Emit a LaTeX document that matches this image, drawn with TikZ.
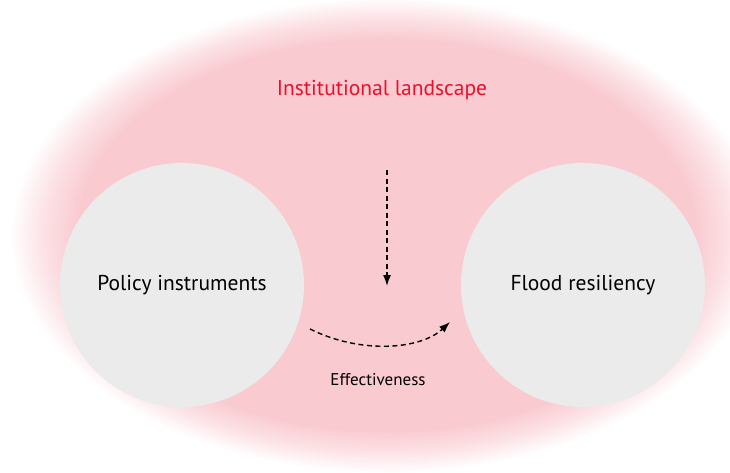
\documentclass[tikz,border=0pt]{standalone}
\usepackage{fontspec}
\setmainfont{PT Sans}
\usetikzlibrary{arrows.meta}
\definecolor{halopink}{RGB}{249,202,208}
\definecolor{discgray}{RGB}{235,235,235}
\definecolor{titlered}{RGB}{232,17,45}
\pgfdeclareradialshading{halo}{\pgfpointorigin}{color(0bp)=(halopink); color(20.5bp)=(halopink); color(22.8bp)=(halopink!55!white); color(25bp)=(white); color(50bp)=(white)}
\tikzset{
    disc/.style={circle, fill=discgray, minimum size=244pt, inner sep=0pt, font=\fontsize{21.5}{25}\selectfont},
    flow/.style={dashed, dash pattern=on 5pt off 3.5pt, line width=1.4pt, -{Latex[length=11pt, width=8pt]}}
}
\begin{document}
\begin{tikzpicture}[x=1pt, y=1pt]
    \useasboundingbox (0, 0) rectangle (730, 472);
    \begin{scope}
        \clip (0, 0) rectangle (730, 472);
        \shade[shading=halo, shift={(386, 237)}, xscale=376, yscale=238] (0, 0) circle (1);
    \end{scope}
    \node[text=titlered, font=\fontsize{21.5}{25}\selectfont] (title) at (382, 382) {Institutional landscape};
    \node[disc] (policy) at (182, 187) {Policy instruments};
    \node[disc] (flood) at (583, 187) {Flood resiliency};
    \coordinate (drop) at (387, 302);
    \coordinate (hit) at (387, 186);
    \draw[flow] (drop) -- (hit);
    \coordinate (start) at (310, 143);
    \coordinate (finish) at (450, 150);
    \draw[flow] (start) .. controls (360, 118) and (420, 122) .. (finish);
    \node[font=\fontsize{17}{20}\selectfont] (effect) at (378, 92) {Effectiveness};
\end{tikzpicture}
\end{document}
